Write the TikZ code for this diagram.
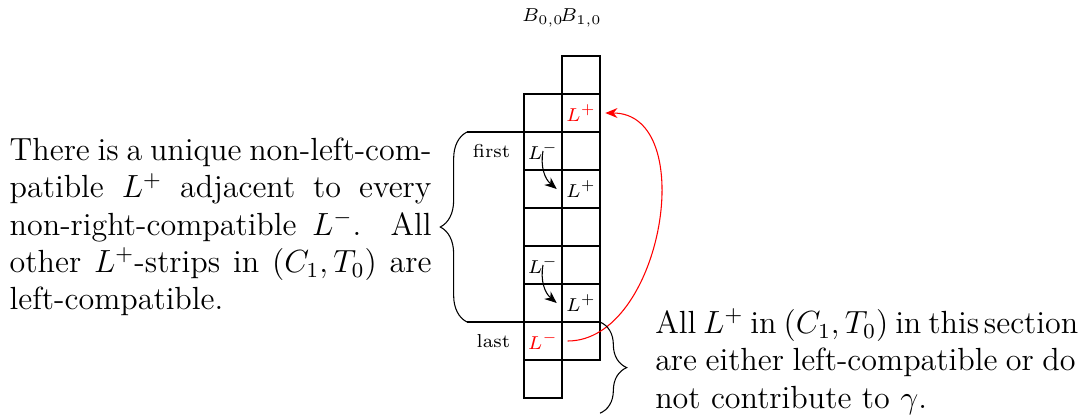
\documentclass[tikz,border=0pt]{standalone}
\usepackage{amsmath,amssymb}
\usetikzlibrary{arrows.meta,positioning,decorations.pathreplacing}

\begin{document}
\begin{tikzpicture}[
  cell/.style={draw,minimum size=0.5cm,inner sep=0pt},
  lab/.style={font=\scriptsize},
  brc/.style={decorate,decoration={brace,amplitude=10pt}},
  note/.style={text width=5.55cm,align=justify,font=\large,inner sep=0pt},
  arrow/.style={-{Stealth[length=1.6mm,width=1.3mm]}}
]
\useasboundingbox (-6.895,-0.237) rectangle (7.316,5.237);
% the two columns of blocks
\foreach \r in {0,...,7} \node[cell] (a\r) at (0.25,\r*0.5+0.25) {};
\foreach \r in {1,...,8} \node[cell] (b\r) at (0.75,\r*0.5+0.25) {};
\node[lab] (h0) at (0.25,5) {$B_{0,0}$};
\node[lab] (h1) at (0.75,5) {$B_{1,0}$};
% strips
\node[lab,text=red] (lp7) at (b7) {$L^+$};
\node[lab] (lm6) at (a6) {$L^-$};
\node[lab] (lp5) at (b5) {$L^+$};
\node[lab] (lm3) at (a3) {$L^-$};
\node[lab] (lp2) at (b2) {$L^+$};
\node[lab,text=red] (lm1) at (a1) {$L^-$};
\node[lab,left=0.05cm of a6] (first) {first};
\node[lab,left=0.05cm of a1] (last) {last};
\draw[arrow] (lm6.center) to[bend right] (lp5.west);
\draw[arrow] (lm3.center) to[bend right] (lp2.west);
\draw[arrow,red] (lm1.east) to[out=0,in=0,looseness=1.05] (lp7.east);
% braces
\coordinate (bt) at (-0.75,3.5);
\coordinate (bb) at (-0.75,1);
\coordinate (et) at (0.75,3.5);
\coordinate (eb) at (0.75,1);
\coordinate (bmid) at (-0.75,2.25);
\draw (bt) -- (et);
\draw (bb) -- (eb);
\draw[brc] (bb) -- (bt);
\coordinate (rt) at (1,1);
\coordinate (rb) at (1,-0.2);
\coordinate (rmid) at (1,0.48);
\draw[brc] (rt) -- (rb);
\node[note,left=0.46cm of bmid] (lnote) {There is a unique non-left-com-\linebreak patible $L^+$ adjacent to every\linebreak non-right-compatible $L^-$.  All\linebreak other $L^+$-strips in $(C_1,T_0)$ are\linebreak left-compatible.};
\node[note,text width=5.53cm,right=0.72cm of rmid] (rnote) {\makebox[\linewidth][s]{All $L^+$ in $(C_1,T_0)$ in this\kern0.15em section}
  are either left-compatible or do\linebreak not contribute to $\gamma$.};
\end{tikzpicture}
\end{document}
